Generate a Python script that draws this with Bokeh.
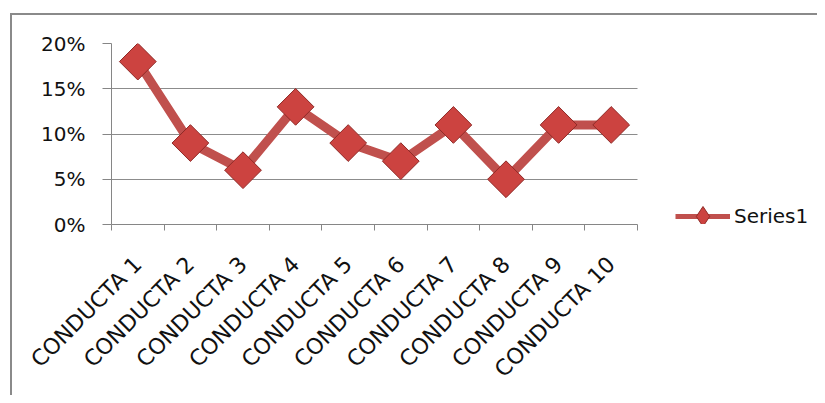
import math
from bokeh.plotting import figure
from bokeh.layouts import column
from bokeh.models import (ColumnDataSource, FixedTicker, LinearAxis, Legend,
                          LegendItem, Range1d, Grid)
from bokeh.embed import file_html
from bokeh.resources import INLINE

# ---- data ----
categories = ["CONDUCTA 1", "CONDUCTA 2", "CONDUCTA 3", "CONDUCTA 4", "CONDUCTA 5",
              "CONDUCTA 6", "CONDUCTA 7", "CONDUCTA 8", "CONDUCTA 9", "CONDUCTA 10"]
values = [0.18, 0.09, 0.06, 0.13, 0.09, 0.07, 0.11, 0.05, 0.11, 0.11]
y_ticks = [0.0, 0.05, 0.10, 0.15, 0.20]
y_tick_labels = ["0%", "5%", "10%", "15%", "20%"]
series_name = "Series1"

FONT = "DejaVu Sans"
GRID = "#8c8c8c"
AXIS = "#868686"
RED = "#c0504d"

# ---- layout (pixels) ----
W, H = 805, 380
LEFT, TOP, BOTTOM = 99, 28, 171
PLOT_W = 526                      # width of the category area
n = len(categories)
x_end = n * (W - LEFT) / PLOT_W   # frame runs to the right edge so the legend fits

centers = [i + 0.5 for i in range(n)]
boundaries = [float(i) for i in range(n + 1)]
src = ColumnDataSource(dict(x=centers, y=values, cat=categories))

p = figure(width=W, height=H,
           x_range=Range1d(0, x_end), y_range=Range1d(y_ticks[0], y_ticks[-1]),
           output_backend="svg", toolbar_location=None,
           min_border_left=LEFT, min_border_right=0,
           min_border_top=TOP, min_border_bottom=BOTTOM)
p.outline_line_color = None
p.background_fill_color = "white"
p.border_fill_color = "white"
p.xgrid.visible = False

# y axis
p.yaxis.ticker = FixedTicker(ticks=y_ticks)
p.yaxis.major_label_overrides = dict(zip(y_ticks, y_tick_labels))
p.yaxis.axis_line_color = AXIS
p.yaxis.major_tick_line_color = AXIS
p.yaxis.major_tick_out = 9
p.yaxis.major_tick_in = 0
p.yaxis.minor_tick_line_color = None
p.yaxis.major_label_standoff = 17
p.yaxis.major_label_text_font = FONT
p.yaxis.major_label_text_font_size = "20px"
p.yaxis.major_label_text_color = "#111111"
yg = p.ygrid[0]
yg.ticker = FixedTicker(ticks=y_ticks)
yg.grid_line_color = GRID
yg.grid_line_width = 1
if "cross_bounds" in Grid.properties():
    yg.cross_bounds = (0, n)

# x axis with ticks at category boundaries (labels hidden)
xa = p.xaxis[0]
xa.ticker = FixedTicker(ticks=boundaries)
xa.bounds = (0, n)
xa.major_label_overrides = {b: "" for b in boundaries}
xa.major_label_text_color = None
xa.major_label_text_font_size = "10px"
xa.major_label_standoff = 0
xa.major_tick_out = 6
xa.major_tick_in = 0
xa.minor_tick_line_color = None
xa.axis_line_color = AXIS
xa.major_tick_line_color = AXIS

# label axis at category centers
la = LinearAxis(ticker=FixedTicker(ticks=centers),
                major_label_overrides=dict(zip(centers, categories)),
                major_label_orientation=math.pi / 4,
                major_tick_out=0, major_tick_in=0,
                minor_tick_line_color=None, axis_line_color=None,
                major_tick_line_color=None,
                major_label_standoff=30,
                major_label_text_font=FONT,
                major_label_text_font_size="22px",
                major_label_text_color="#111111")
p.add_layout(la, "below")

# legend-key glyphs: same data, drawn first so the main glyphs cover them
key_line = p.line("x", "y", source=src, line_color=RED, line_width=5)
key_mark = p.scatter("x", "y", source=src, marker="diamond", size=20,
                     fill_color="#cc4340", line_color="#8f2a27", line_width=1)

# series
line_r = p.line("x", "y", source=src, line_color=RED, line_width=9,
                line_join="round")
mark_r = p.scatter("x", "y", source=src, marker="square", angle=math.pi / 4,
                   size=26, fill_color="#cc4340", line_color="#8f2a27", line_width=1)

legend = Legend(items=[LegendItem(label=series_name, renderers=[key_line, key_mark])],
                location=(564, -17), glyph_width=55, glyph_height=50,
                padding=4, margin=0, label_standoff=4, border_line_color=None,
                background_fill_alpha=0, label_text_font=FONT,
                label_text_font_size="20px", label_text_color="#111111")
p.add_layout(legend, "center")

page = column(p, styles={"margin-left": "10px", "margin-top": "13px",
                         "border-left": "2px solid #8a8a8a",
                         "border-top": "2px solid #8a8a8a",
                         "box-sizing": "content-box",
                         "overflow": "visible"})

open("out.html", "w").write(file_html(page, INLINE))
